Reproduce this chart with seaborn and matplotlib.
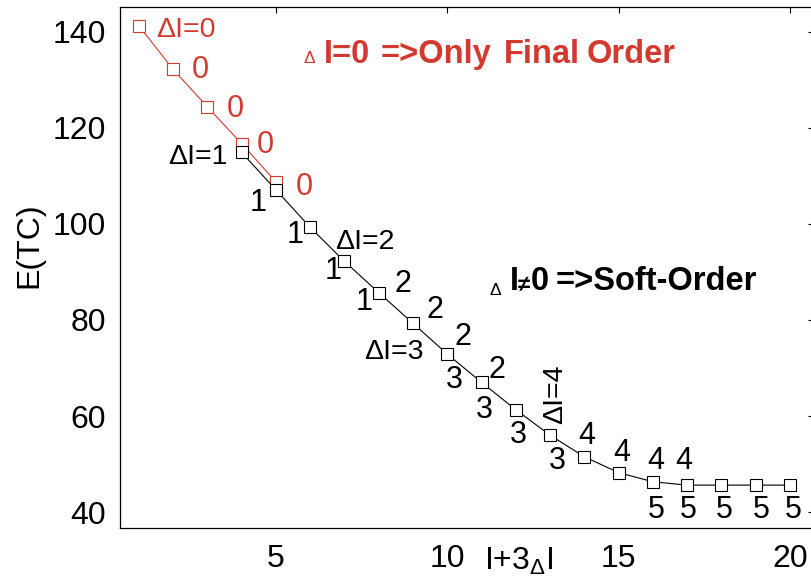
import matplotlib
matplotlib.use("Agg")
import matplotlib.pyplot as plt
from matplotlib.transforms import IdentityTransform
import seaborn as sns

# Curve where only the final order is placed (ΔI = 0)
final_x = [1, 2, 3, 4, 5]
final_E = [141.3, 132.2, 124.4, 116.7, 108.8]

# Soft-order curve (ΔI ≠ 0)
soft_x = [4, 5, 6, 7, 8, 9, 10, 11, 12, 13, 14, 15, 16, 17, 18, 19, 20]
soft_E = [114.9, 107.1, 99.3, 92.2, 85.7, 79.3, 72.9, 67.0, 61.3, 56.0,
          51.5, 48.2, 46.3, 45.6, 45.6, 45.6, 45.6]

# ΔI tags attached to the points of each curve
final_tag_x = [1, 2, 3, 4, 5]
final_tags = ["ΔI=0", "0", "0", "0", "0"]
soft_tag_x = [4, 5, 6, 7, 8,
              7, 8, 9, 10, 11,
              10, 10, 11, 12, 13,
              13, 14, 15, 16, 17,
              16, 17, 18, 19, 20]
soft_tags = ["ΔI=1", "1", "1", "1", "1",
             "ΔI=2", "2", "2", "2", "2",
             "ΔI=3", "3", "3", "3", "3",
             "ΔI=4", "4", "4", "4", "4",
             "5", "5", "5", "5", "5"]

x_ticks = [5, 10, 15, 20]
y_ticks = [40, 60, 80, 100, 120, 140]

RED = "#d23a30"
W, H, DPI = 812, 584, 100

sns.set_theme(style="white")
plt.rcParams["font.family"] = ["Liberation Sans", "DejaVu Sans"]
plt.rcParams["axes.edgecolor"] = "black"
plt.rcParams["axes.linewidth"] = 0.9

fig = plt.figure(figsize=(W / DPI, H / DPI), dpi=DPI)
ax = fig.add_axes([120 / W, 1 - 528 / H, 694 / W, 521 / H])

line_kw = dict(marker="s", markersize=8.8, markerfacecolor="white",
               markeredgewidth=0.8, linewidth=0.8, ax=ax)
sns.lineplot(x=final_x, y=final_E, color=RED, markeredgecolor=RED,
             zorder=2, **line_kw)
sns.lineplot(x=soft_x, y=soft_E, color="black", markeredgecolor="black",
             zorder=3, **line_kw)

ax.set_xlim(0.45, 20.70)
ax.set_ylim(36.67, 145.2)
ax.set_xticks(x_ticks)
ax.set_yticks(y_ticks)
ax.tick_params(axis="both", which="both", direction="in", length=4.3,
               width=0.8, color="black", labelsize=23, labelcolor="black",
               top=True, right=True)
ax.tick_params(axis="x", pad=11.5)
ax.tick_params(axis="y", pad=10)
for sp in ax.spines.values():
    sp.set_visible(True)
    sp.set_color("black")
    sp.set_linewidth(0.9)

ax.set_ylabel("E(TC)", fontsize=23, color="black")
ax.yaxis.set_label_coords(-0.1095, 0.543)
ax.set_xlabel(r"I+$\mathregular{3_{Δ}}$I", fontsize=23, color="black")
ax.xaxis.set_label_coords(0.574, -0.0345)

# tag offsets in pixels (ink centre relative to the point)
final_off = [(47, -1), (27.5, 2.6), (28, 1), (24, 1.5), (28.5, -2.3)]
soft_off = [(-44, -1), (-18, -10.5), (-15, -5), (-11, -6.3), (-15, -6.5),
            (20.5, 22.7), (24, 12), (21.7, 15.8), (15.3, 20), (15, 15),
            (-53, 5), (7, -22.7), (2.5, -25), (2.3, -22.5), (7, -22.5),
            (2, 41), (2.5, 24), (3, 22.7), (3, 23.7), (-3, 27),
            (3, -25.3), (1, -22), (3, -22), (6, -22), (3, -22)]


def put_tags(xs, ys, tag_x, tags, offs, color):
    lookup = dict(zip(xs, ys))
    for x, s, (dx, dy) in zip(tag_x, tags, offs):
        header = s.startswith("Δ")
        size = 20.5 if header else 22
        em = size * DPI / 72
        if s == "ΔI=4":
            ax.annotate(s, xy=(x, lookup[x]), xytext=(dx + 0.1 * em, dy),
                        textcoords="offset pixels", ha="center", va="center",
                        rotation=90, fontsize=size, color=color, zorder=5)
        else:
            ax.annotate(s, xy=(x, lookup[x]),
                        xytext=(dx, dy - 0.358 * em),
                        textcoords="offset pixels", ha="center",
                        va="baseline", fontsize=size, color=color, zorder=5)


put_tags(final_x, final_E, final_tag_x, final_tags, final_off, RED)
put_tags(soft_x, soft_E, soft_tag_x, soft_tags, soft_off, "black")

# Statements written inside the axes, set word by word (pixel positions)
px = IdentityTransform()


def say(x, y, s, size, color, weight="bold"):
    fig.text(x, H - y, s, transform=px, fontsize=size, color=color,
             fontweight=weight, ha="left", va="baseline")


say(303, 63, "Δ", 12.5, RED, "normal")
for left, word in [(324, "I=0"), (381, "=>Only"), (504, "Final"),
                   (587, "Order")]:
    say(left, 63, word, 23.5, RED)

say(489, 295, "Δ", 12.5, "black", "normal")
say(510, 290, "I", 23.5, "black")
say(518, 290, "≠", 16, "black")
for left, word in [(531, "0"), (556, "=>Soft-Order")]:
    say(left, 290, word, 23.5, "black")

fig.savefig("out.png", dpi=DPI)
